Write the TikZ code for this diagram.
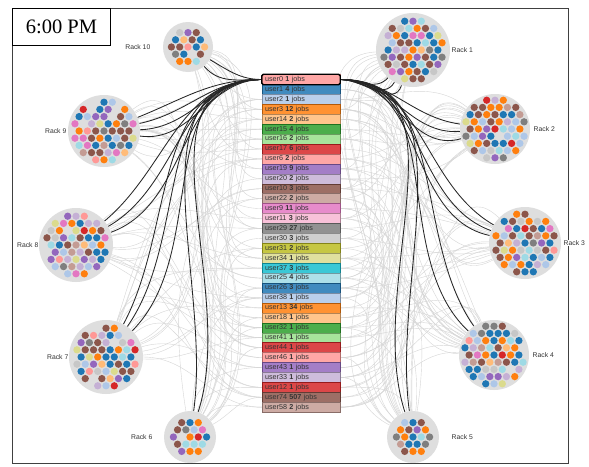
\documentclass[tikz,border=0pt]{standalone}
\usepackage{fontspec}
\setmainfont{Liberation Sans}
\newfontfamily\clockfont{Liberation Serif}
\usetikzlibrary{positioning,backgrounds}
\definecolor{tabblue}{HTML}{1F77B4}
\definecolor{tabblueL}{HTML}{AEC7E8}
\definecolor{taborange}{HTML}{FF7F0E}
\definecolor{taborangeL}{HTML}{FFBB78}
\definecolor{tabgreen}{HTML}{2CA02C}
\definecolor{tabgreenL}{HTML}{98DF8A}
\definecolor{tabred}{HTML}{D62728}
\definecolor{tabredL}{HTML}{FF9896}
\definecolor{tabpurple}{HTML}{9467BD}
\definecolor{tabpurpleL}{HTML}{C5B0D5}
\definecolor{tabbrown}{HTML}{8C564B}
\definecolor{tabbrownL}{HTML}{C49C94}
\definecolor{tabpink}{HTML}{E377C2}
\definecolor{tabpinkL}{HTML}{F7B6D2}
\definecolor{tabgray}{HTML}{7F7F7F}
\definecolor{tabgrayL}{HTML}{C7C7C7}
\definecolor{tabolive}{HTML}{BCBD22}
\definecolor{taboliveL}{HTML}{DBDB8D}
\definecolor{tabcyan}{HTML}{17BECF}
\definecolor{tabcyanL}{HTML}{9EDAE5}
\definecolor{rackbg}{HTML}{DEDEDE}
\definecolor{inktext}{HTML}{333333}
\tikzset{
  rowbox/.style={rectangle, minimum height=9.93pt, text width=72pt, inner xsep=3pt,
                 inner ysep=0pt, align=left, line width=0.4pt, text=inktext,
                 font=\fontsize{7.2}{8}\selectfont},
  rackdisc/.style={circle, fill=rackbg, draw=none, inner sep=0pt},
  racklabel/.style={font=\fontsize{6.8}{8}\selectfont, text=inktext, inner sep=0.5pt},
  webline/.style={draw=black!16, line width=0.4pt},
  hotline/.style={draw=black!85, line width=0.85pt},
  clockbox/.style={draw=black, line width=0.9pt, fill=white, minimum width=98pt,
                   minimum height=37pt, inner sep=0pt, font=\clockfont\fontsize{20.5}{22}\selectfont},
  framel/.style={draw=black!75, line width=0.8pt}
}
\pgfmathdeclarerandomlist{dotpal}{{tabbrown}{tabbrown}{tabbrown}{tabbrown}{tabbrown}%
  {tabblue}{tabblue}{tabblue}{tabblue}{taborange}{taborange}{taborange}{taborange}%
  {tabblueL}{tabblueL}{tabgray}{tabgray}{tabpurple}{tabpurple}{tabcyanL}{tabcyanL}%
  {tabgrayL}{tabredL}{tabpink}{taboliveL}{tabred}{tabbrownL}{taborangeL}{tabpurpleL}}
% hex grid of job dots inside one rack
\newcommand{\rackdots}[3]{%
  \foreach \j in {-5,...,5}{%
    \foreach \i in {-5,...,5}{%
      \pgfmathsetmacro{\dx}{\i*8.3+mod(abs(\j),2)*4.15}%
      \pgfmathsetmacro{\dy}{\j*7.2}%
      \pgfmathsetmacro{\dd}{veclen(\dx,\dy)}%
      \pgfmathrandomitem{\dc}{dotpal}%
      \pgfmathrandominteger{\gap}{0}{99}%
      \ifdim\dd pt<\dimexpr #3pt-4.2pt\relax
        \ifnum\gap>4 \fill[\dc] (#1+\dx,#2+\dy) circle (3.65);\fi
      \fi
    }}}

\begin{document}
\begin{tikzpicture}[x=1pt, y=-1pt]
  \pgfmathsetseed{4242}
  \useasboundingbox (0,0) rectangle (589,466);

  %% user list
  \foreach \nm/\jb/\cl [count=\k from 0] in {user0/1/tabredL, user1/4/tabblue,
      user2/1/tabblueL, user3/12/taborange, user14/2/taborangeL, user15/4/tabgreen,
      user16/2/tabgreenL, user17/6/tabred, user6/2/tabredL, user19/9/tabpurple,
      user20/2/tabpurpleL, user10/3/tabbrown, user22/2/tabbrownL, user9/11/tabpink,
      user11/3/tabpinkL, user29/27/tabgray, user30/3/tabgrayL, user31/2/tabolive,
      user34/1/taboliveL, user37/3/tabcyan, user25/4/tabcyanL, user26/3/tabblue,
      user38/1/tabblueL, user13/34/taborange, user18/1/taborangeL, user32/1/tabgreen,
      user41/1/tabgreenL, user44/1/tabred, user46/1/tabredL, user43/1/tabpurple,
      user33/1/tabpurpleL, user12/1/tabred, user74/507/tabbrown, user58/2/tabbrownL}
    \node[rowbox, fill=\cl!85!white, draw=\cl!70!black] (u\k) at (301,79.5+\k*9.93)
      {\nm\ \textbf{\jb} jobs};
  \draw[line width=1.3pt, rounded corners=1.5pt] (u0.north west) rectangle (u0.south east);

  %% racks
  \foreach \r/\x/\y/\R in {1/413/50/37, 2/495/129/35, 3/525/243/36, 4/494/355/35,
      5/413/437/26, 6/190/437/26, 7/106/357/37, 8/76/245/37, 9/104/131/36, 10/188/47/25}{
    \node[rackdisc, minimum size=\R*2pt] (r\r) at (\x,\y) {};
    \rackdots{\x}{\y}{\R}
  }
  \foreach \r in {6,...,10}
    \node[racklabel, anchor=east] at ([xshift=-37pt]r\r.center) {Rack \r};
  \foreach \r in {1,2,4,5}
    \node[racklabel, anchor=west] at ([xshift=38pt]r\r.center) {Rack \r};
  \node[racklabel, anchor=west, fill=white] at ([xshift=38pt]r3.center) {Rack 3};

  \node[clockbox, anchor=north west] (clock) at (12,8) {6:00 PM};

  %% links
  \begin{scope}[on background layer]
    \fill[white] (0,0) rectangle (589,466);
    \draw[framel] (12,8) rectangle (568,463);
    \foreach \k in {0,...,33}{
      \foreach \r/\a in {10/-40, 9/0, 8/10, 7/35, 6/65}{
        \pgfmathrandominteger{\pick}{0}{99}
        \ifnum\pick<62
          \pgfmathrandominteger{\off}{-38}{38}
          \pgfmathtruncatemacro{\ang}{\a+\off}
          \draw[webline] (u\k.west) to[out=180, in=\ang] (r\r.\ang);
        \fi
      }
      \foreach \r/\a in {1/220, 2/180, 3/170, 4/145, 5/115}{
        \pgfmathrandominteger{\pick}{0}{99}
        \ifnum\pick<62
          \pgfmathrandominteger{\off}{-38}{38}
          \pgfmathtruncatemacro{\ang}{\a+\off}
          \draw[webline] (u\k.east) to[out=0, in=\ang] (r\r.\ang);
        \fi
      }
    }
    \foreach \r/\a in {10/-30, 10/-50, 9/-8, 9/2, 9/12, 9/22, 8/20, 8/30, 8/40,
        7/45, 7/55, 7/62, 6/72, 6/82}
      \draw[hotline] (u0.west) to[out=180, in=\a] (r\r.\a);
    \foreach \r/\a in {1/228, 1/240, 1/252, 2/172, 2/184, 2/196, 3/150, 3/160,
        3/168, 4/125, 4/137, 5/98, 5/108}
      \draw[hotline] (u0.east) to[out=0, in=\a] (r\r.\a);
  \end{scope}
\end{tikzpicture}
\end{document}
